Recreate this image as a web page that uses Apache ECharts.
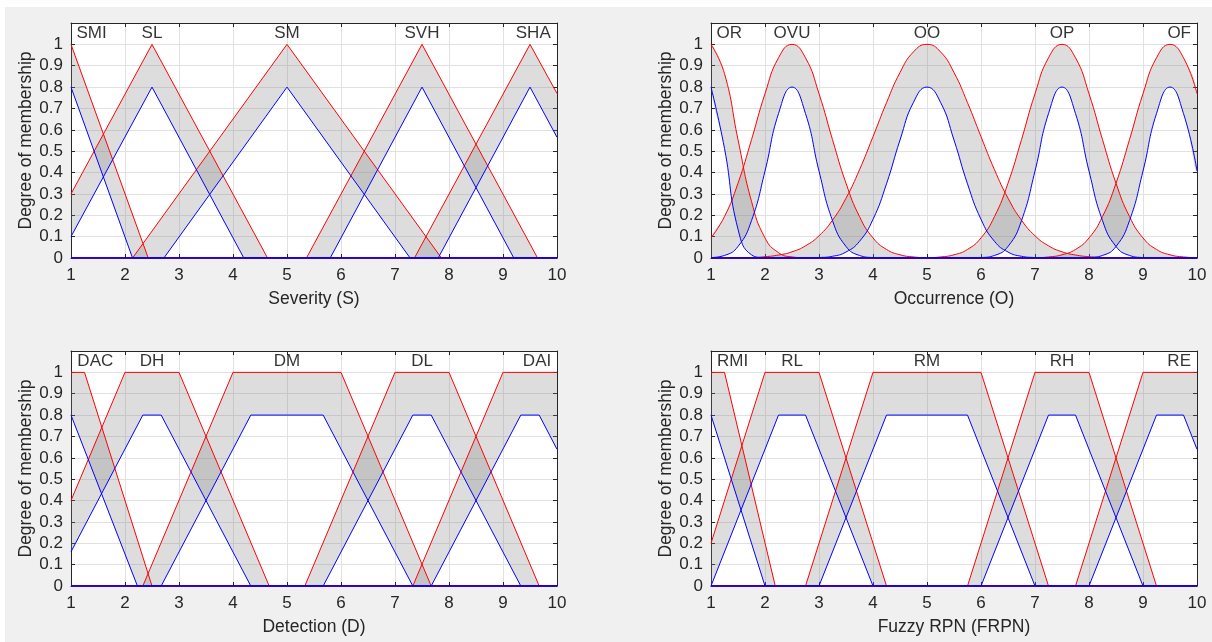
<!DOCTYPE html>
<html>
<head>
<meta charset="utf-8">
<title>Interval type-2 membership functions</title>
<script src="https://cdn.jsdelivr.net/npm/echarts@6/dist/echarts.min.js"></script>
<style>
  html, body { margin: 0; padding: 0; background: #fff; }
  #bg { position: absolute; left: 5px; top: 7px; width: 1207px; height: 635px; background: #f0f0f0; }
  #chart { position: absolute; left: 0; top: 0; width: 1212px; height: 642px; }
</style>
</head>
<body>
<div id="bg"></div>
<div id="chart"></div>
<script>
// ---- Severity (S): upper (red) / lower (blue) vertices [x, membership]
const S_NAMES = ['SMI', 'SL', 'SM', 'SVH', 'SHA']
const S_LABEL_X = [1.38, 2.5, 5, 7.5, 9.56]
const S_UPPER = [
  [[1, 1], [2.43, 0], [10, 0]],
  [[1, 0.3], [2.5, 1], [4.64, 0], [10, 0]],
  [[1, 0], [2.14, 0], [5, 1], [7.86, 0], [10, 0]],
  [[1, 0], [5.36, 0], [7.5, 1], [9.64, 0], [10, 0]],
  [[1, 0], [7.36, 0], [9.5, 1], [10, 0.77]]
]
const S_LOWER = [
  [[1, 0.8], [2.14, 0], [10, 0]],
  [[1, 0.1], [2.5, 0.8], [4.2, 0], [10, 0]],
  [[1, 0], [2.72, 0], [5, 0.8], [7.28, 0], [10, 0]],
  [[1, 0], [5.8, 0], [7.5, 0.8], [9.2, 0], [10, 0]],
  [[1, 0], [7.8, 0], [9.5, 0.8], [10, 0.565]]
]

// ---- Occurrence (O): gaussian sets read every 0.25
const O_NAMES = ['OR', 'OVU', 'OO', 'OP', 'OF']
const O_LABEL_X = [1.34, 2.5, 5, 7.5, 9.67]
const O_X = [1, 1.25, 1.5, 1.75, 2, 2.25, 2.5, 2.75, 3, 3.25, 3.5, 3.75, 4, 4.25, 4.5, 4.75, 5, 5.25, 5.5,
  5.75, 6, 6.25, 6.5, 6.75, 7, 7.25, 7.5, 7.75, 8, 8.25, 8.5, 8.75, 9, 9.25, 9.5, 9.75, 10]
const O_UPPER = [
  [1, 0.863, 0.554, 0.265, 0.094, 0.025, 0.005, 0.001, 0, 0, 0, 0, 0, 0, 0, 0, 0, 0, 0,
    0, 0, 0, 0, 0, 0, 0, 0, 0, 0, 0, 0, 0, 0, 0, 0, 0, 0],
  [0.094, 0.194, 0.35, 0.554, 0.769, 0.937, 1, 0.937, 0.769, 0.554, 0.35, 0.194, 0.094, 0.04, 0.015, 0.005, 0.001, 0, 0,
    0, 0, 0, 0, 0, 0, 0, 0, 0, 0, 0, 0, 0, 0, 0, 0, 0, 0],
  [0, 0, 0.001, 0.0025, 0.006, 0.014, 0.029, 0.057, 0.104, 0.177, 0.28, 0.413, 0.568, 0.727, 0.868, 0.965, 1, 0.965, 0.868,
    0.727, 0.568, 0.413, 0.28, 0.177, 0.104, 0.057, 0.029, 0.014, 0.006, 0.0025, 0.001, 0, 0, 0, 0, 0, 0],
  [0, 0, 0, 0, 0, 0, 0, 0, 0, 0, 0, 0, 0, 0, 0, 0, 0.001, 0.005, 0.015,
    0.04, 0.094, 0.194, 0.35, 0.554, 0.769, 0.937, 1, 0.937, 0.769, 0.554, 0.35, 0.194, 0.094, 0.04, 0.015, 0.005, 0.001],
  [0, 0, 0, 0, 0, 0, 0, 0, 0, 0, 0, 0, 0, 0, 0, 0, 0, 0, 0,
    0, 0, 0, 0, 0, 0.001, 0.005, 0.015, 0.04, 0.094, 0.194, 0.35, 0.554, 0.769, 0.937, 1, 0.937, 0.769]
]
const O_LOWER = [
  [0.8, 0.513, 0.135, 0.015, 0.001, 0, 0, 0, 0, 0, 0, 0, 0, 0, 0, 0, 0, 0, 0,
    0, 0, 0, 0, 0, 0, 0, 0, 0, 0, 0, 0, 0, 0, 0, 0, 0, 0],
  [0.002, 0.012, 0.054, 0.175, 0.407, 0.676, 0.8, 0.676, 0.407, 0.175, 0.054, 0.012, 0.002, 0, 0, 0, 0, 0, 0,
    0, 0, 0, 0, 0, 0, 0, 0, 0, 0, 0, 0, 0, 0, 0, 0, 0, 0],
  [0, 0, 0, 0, 0, 0, 0, 0, 0.002, 0.008, 0.028, 0.078, 0.181, 0.347, 0.552, 0.729, 0.8, 0.729, 0.552,
    0.347, 0.181, 0.078, 0.028, 0.008, 0.002, 0, 0, 0, 0, 0, 0, 0, 0, 0, 0, 0, 0],
  [0, 0, 0, 0, 0, 0, 0, 0, 0, 0, 0, 0, 0, 0, 0, 0, 0, 0, 0,
    0, 0.002, 0.012, 0.054, 0.175, 0.407, 0.676, 0.8, 0.676, 0.407, 0.175, 0.054, 0.012, 0.002, 0, 0, 0, 0],
  [0, 0, 0, 0, 0, 0, 0, 0, 0, 0, 0, 0, 0, 0, 0, 0, 0, 0, 0,
    0, 0, 0, 0, 0, 0, 0, 0, 0, 0.002, 0.012, 0.054, 0.175, 0.407, 0.676, 0.8, 0.676, 0.407]
]

// ---- Detection (D): trapezoids
const D_NAMES = ['DAC', 'DH', 'DM', 'DL', 'DAI']
const D_LABEL_X = [1.45, 2.5, 5, 7.5, 9.63]
const D_UPPER = [
  [[1, 1], [1.25, 1], [2.5, 0], [10, 0]],
  [[1, 0.4], [2, 1], [3, 1], [4.67, 0], [10, 0]],
  [[1, 0], [2.33, 0], [4, 1], [6, 1], [7.67, 0], [10, 0]],
  [[1, 0], [5.33, 0], [7, 1], [8, 1], [9.67, 0], [10, 0]],
  [[1, 0], [7.33, 0], [9, 1], [10, 1]]
]
const D_LOWER = [
  [[1, 0.8], [2.23, 0], [10, 0]],
  [[1, 0.16], [2.33, 0.8], [2.67, 0.8], [4.33, 0], [10, 0]],
  [[1, 0], [2.67, 0], [4.33, 0.8], [5.67, 0.8], [7.33, 0], [10, 0]],
  [[1, 0], [5.67, 0], [7.33, 0.8], [7.67, 0.8], [9.33, 0], [10, 0]],
  [[1, 0], [7.67, 0], [9.33, 0.8], [9.67, 0.8], [10, 0.64]]
]

// ---- Fuzzy RPN (FRPN): trapezoids
const R_NAMES = ['RMI', 'RL', 'RM', 'RH', 'RE']
const R_LABEL_X = [1.4, 2.5, 5, 7.5, 9.67]
const R_UPPER = [
  [[1, 1], [1.25, 1], [2.19, 0], [10, 0]],
  [[1, 0.2], [2, 1], [3, 1], [4.25, 0], [10, 0]],
  [[1, 0], [2.75, 0], [4, 1], [6, 1], [7.25, 0], [10, 0]],
  [[1, 0], [5.75, 0], [7, 1], [8, 1], [9.25, 0], [10, 0]],
  [[1, 0], [7.75, 0], [9, 1], [10, 1]]
]
const R_LOWER = [
  [[1, 0.8], [2, 0], [10, 0]],
  [[1, 0], [2.25, 0.8], [2.75, 0.8], [4, 0], [10, 0]],
  [[1, 0], [3, 0], [4.25, 0.8], [5.75, 0.8], [7, 0], [10, 0]],
  [[1, 0], [6, 0], [7.25, 0.8], [7.75, 0.8], [9, 0], [10, 0]],
  [[1, 0], [8, 0], [9.25, 0.8], [9.75, 0.8], [10, 0.64]]
]

const X_TITLES = ['Severity (S)', 'Occurrence (O)', 'Detection (D)', 'Fuzzy RPN (FRPN)']
const Y_TITLE = 'Degree of membership'

const FONT = '"Liberation Sans", Arial, Helvetica, sans-serif'
const AX = '#262626'

const toPts = vals => vals.map(v => O_X.map((x, i) => [x, v[i]]))

const panels = [
  { names: S_NAMES, labelX: S_LABEL_X, upper: S_UPPER, lower: S_LOWER, smooth: 0 },
  { names: O_NAMES, labelX: O_LABEL_X, upper: toPts(O_UPPER), lower: toPts(O_LOWER), smooth: 0.5 },
  { names: D_NAMES, labelX: D_LABEL_X, upper: D_UPPER, lower: D_LOWER, smooth: 0 },
  { names: R_NAMES, labelX: R_LABEL_X, upper: R_UPPER, lower: R_LOWER, smooth: 0 }
]

// grid boxes (pixel layout of the 2x2 figure)
const boxes = [
  { left: 71, top: 23, width: 486, height: 235 },
  { left: 711, top: 23, width: 486, height: 235 },
  { left: 71, top: 351, width: 486, height: 235 },
  { left: 711, top: 351, width: 486, height: 235 }
]

const grid = []
const xAxis = []
const yAxis = []
const bands = []
const reds = []
const blues = []
const labels = []

const tick = { show: true, inside: true, length: 4, lineStyle: { color: AX } }
const line = { show: true, onZero: false, lineStyle: { color: AX, width: 1 } }

panels.forEach((p, k) => {
  grid.push(Object.assign({ show: true, backgroundColor: '#fff', borderWidth: 0 }, boxes[k]))
  // bottom + top x axes
  xAxis.push({
    gridIndex: k,
    type: 'value',
    position: 'bottom',
    min: 1,
    max: 10,
    interval: 1,
    name: X_TITLES[k],
    nameLocation: 'middle',
    nameGap: 32,
    nameTextStyle: { color: AX, fontSize: 17.5, fontFamily: FONT },
    axisLine: line,
    axisTick: tick,
    axisLabel: { color: AX, fontSize: 17, fontFamily: FONT, margin: 9 },
    splitLine: { show: true, lineStyle: { color: '#e1e1e1', width: 1 } }
  })
  xAxis.push({
    gridIndex: k,
    type: 'value',
    position: 'top',
    min: 1,
    max: 10,
    interval: 1,
    axisLine: line,
    axisTick: tick,
    axisLabel: { show: false },
    splitLine: { show: false }
  })
  // left + right y axes
  yAxis.push({
    gridIndex: k,
    type: 'value',
    position: 'left',
    min: 0,
    max: 1.1,
    interval: 0.1,
    name: Y_TITLE,
    nameLocation: 'middle',
    nameGap: 34,
    nameTextStyle: { color: AX, fontSize: 17.5, fontFamily: FONT },
    axisLine: line,
    axisTick: tick,
    axisLabel: { color: AX, fontSize: 17, fontFamily: FONT, margin: 8, showMaxLabel: false },
    splitLine: { show: true, lineStyle: { color: '#e1e1e1', width: 1 } }
  })
  yAxis.push({
    gridIndex: k,
    type: 'value',
    position: 'right',
    min: 0,
    max: 1.1,
    interval: 0.1,
    axisLine: line,
    axisTick: tick,
    axisLabel: { show: false },
    splitLine: { show: false }
  })

  const xi = k * 2
  const yi = k * 2

  // shaded footprint of uncertainty: upper curve, then lower curve back
  bands.push({
    type: 'custom',
    xAxisIndex: xi,
    yAxisIndex: yi,
    silent: true,
    clip: true,
    encode: { x: 0, y: 1 },
    data: p.upper.map((_, i) => [1, 0, i]),
    renderItem (params, api) {
      const i = api.value(2)
      const pts = p.upper[i].concat(p.lower[i].slice().reverse()).map(pt => api.coord(pt))
      // keep smoothed edges inside the polygon's own bounding box
      const xs = pts.map(q => q[0])
      const ys = pts.map(q => q[1])
      const box = [[Math.min(...xs), Math.min(...ys)], [Math.max(...xs), Math.max(...ys)]]
      return {
        type: 'polygon',
        shape: { points: pts, smooth: p.smooth, smoothConstraint: box },
        style: { fill: 'rgba(128,128,128,0.27)', stroke: null }
      }
    }
  })

  p.upper.forEach(pts => {
    reds.push({
      type: 'line',
      xAxisIndex: xi,
      yAxisIndex: yi,
      data: pts,
      symbol: 'none',
      smooth: p.smooth,
      silent: true,
      lineStyle: { color: '#ff0000', width: 1 }
    })
  })
  p.lower.forEach(pts => {
    blues.push({
      type: 'line',
      xAxisIndex: xi,
      yAxisIndex: yi,
      data: pts,
      symbol: 'none',
      smooth: p.smooth,
      silent: true,
      lineStyle: { color: '#0000ff', width: 1 }
    })
  })

  labels.push({
    type: 'scatter',
    xAxisIndex: xi,
    yAxisIndex: yi,
    symbolSize: 1,
    silent: true,
    itemStyle: { color: 'rgba(0,0,0,0)' },
    label: {
      show: true,
      position: 'inside',
      formatter: d => d.value[2],
      color: '#000',
      fontSize: 17,
      fontFamily: FONT
    },
    data: p.names.map((n, i) => [p.labelX[i], 1.05, n])
  })
})

const myChart = echarts.init(document.getElementById('chart'))
myChart.setOption({
  animation: false,
  backgroundColor: 'transparent',
  textStyle: { fontFamily: FONT },
  grid,
  xAxis,
  yAxis,
  series: [].concat(bands, reds, blues, labels)
})
</script>
</body>
</html>
